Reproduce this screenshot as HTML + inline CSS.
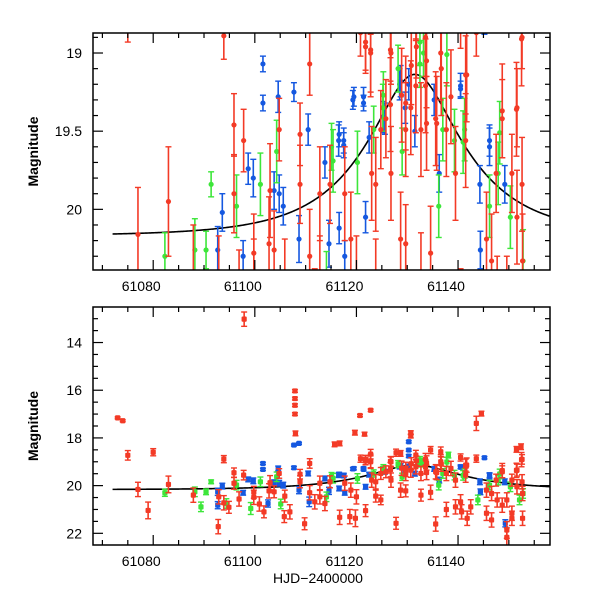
<!DOCTYPE html>
<html><head><meta charset="utf-8"><style>
html,body{margin:0;padding:0;background:#fff;}
svg{display:block;font-family:"Liberation Sans",sans-serif;}
</style></head><body>
<svg id="chart" width="600" height="600" viewBox="0 0 600 600" xmlns="http://www.w3.org/2000/svg">
<defs>
<clipPath id="clipTop"><rect x="93" y="33" width="457" height="237"/></clipPath>
<clipPath id="clipBot"><rect x="93" y="307" width="457" height="238"/></clipPath>
</defs>
<g id="gTop"></g>
<g id="gBot"></g>
</svg>
<script>
// ---- data: [HJD-2400000, magnitude, error] ----
const redPts = [[61073.0,17.16,0.04],[61074.0,17.28,0.04],[61075.0,18.73,0.2],[61077.0,20.16,0.3],[61079.0,21.04,0.35],[61080.0,18.6,0.15],[61083.0,19.95,0.35],[61087.9,20.4,0.3],[61092.8,21.72,0.3],[61092.9,20.47,0.3],[61093.9,18.89,0.15],[61093.9,20.72,0.3],[61094.9,20.91,0.25],[61095.9,19.46,0.2],[61095.9,19.9,0.25],[61096.9,20.56,0.3],[61097.8,19.56,0.2],[61097.9,13.02,0.3],[61099.8,20.28,0.25],[61099.8,20.49,0.3],[61100.9,20.77,0.3],[61101.8,21.1,0.25],[61102.8,20.22,0.3],[61103.0,19.88,0.3],[61103.8,20.26,0.25],[61104.8,19.49,0.2],[61105.8,21.3,0.25],[61105.9,20.44,0.25],[61106.9,21.1,0.3],[61107.9,16.03,0.06],[61107.9,16.35,0.06],[61107.9,16.63,0.06],[61107.9,17.0,0.06],[61108.0,17.81,0.1],[61108.9,19.52,0.2],[61108.9,19.84,0.25],[61109.8,21.6,0.25],[61110.8,19.07,0.2],[61110.8,20.3,0.3],[61111.8,20.68,0.3],[61112.8,19.9,0.3],[61112.8,20.47,0.3],[61113.8,20.75,0.3],[61114.8,19.84,0.25],[61115.7,18.27,0.1],[61116.7,18.23,0.1],[61116.7,21.33,0.3],[61117.7,19.9,0.3],[61118.7,21.3,0.3],[61118.9,20.19,0.3],[61119.7,17.78,0.1],[61119.8,21.37,0.35],[61120.0,20.47,0.3],[61120.7,17.06,0.05],[61120.8,18.87,0.15],[61121.6,17.84,0.08],[61121.8,18.93,0.2],[61121.8,21.05,0.25],[61122.8,16.84,0.05],[61122.8,18.68,0.2],[61122.8,19.0,0.25],[61123.0,19.77,0.3],[61123.8,20.44,0.25],[61123.8,19.84,0.3],[61124.8,20.6,0.2],[61124.8,19.49,0.25],[61125.8,19.42,0.25],[61126.8,19.0,0.2],[61126.8,19.77,0.3],[61127.8,18.62,0.15],[61127.8,21.58,0.25],[61128.7,18.65,0.12],[61128.7,20.19,0.3],[61129.7,20.22,0.25],[61129.7,19.49,0.3],[61130.7,17.78,0.08],[61130.7,17.92,0.08],[61130.7,19.35,0.3],[61131.7,18.72,0.2],[61131.7,19.21,0.3],[61132.7,20.4,0.25],[61132.7,19.49,0.3],[61133.6,18.9,0.25],[61133.6,19.21,0.3],[61134.6,18.51,0.15],[61134.6,20.28,0.3],[61135.6,21.61,0.3],[61135.6,19.42,0.3],[61136.6,18.58,0.2],[61136.6,19.0,0.3],[61137.7,21.0,0.3],[61137.7,19.49,0.3],[61138.6,19.28,0.3],[61139.5,19.77,0.3],[61139.5,20.89,0.3],[61140.5,18.82,0.15],[61140.5,20.68,0.3],[61140.7,21.1,0.3],[61141.5,19.14,0.25],[61141.5,19.56,0.3],[61141.8,21.37,0.3],[61142.5,20.89,0.3],[61143.6,17.39,0.3],[61143.6,18.87,0.15],[61144.6,16.98,0.1],[61145.6,21.16,0.3],[61146.6,21.44,0.3],[61145.6,20.19,0.3],[61146.6,20.33,0.3],[61147.5,19.77,0.25],[61147.7,20.6,0.3],[61148.7,19.42,0.25],[61148.7,20.82,0.3],[61149.6,20.6,0.3],[61149.6,21.86,0.35],[61149.6,22.17,0.4],[61150.6,21.16,0.3],[61150.6,21.37,0.3],[61150.6,19.77,0.25],[61151.5,18.48,0.12],[61151.6,19.35,0.25],[61151.6,20.05,0.3],[61152.4,18.37,0.12],[61152.6,18.9,0.2],[61152.6,19.84,0.3],[61152.7,21.37,0.3],[61152.7,20.33,0.3],
[61121.8,18.96,0.15],[61122.8,18.98,0.3],[61126.7,18.98,0.2],[61126.7,19.33,0.3],[61128.9,19.27,0.3],[61129.7,19.32,0.3],[61130.8,19.08,0.25],[61131.8,18.96,0.2],[61133.8,19.05,0.3],[61133.8,19.45,0.3],[61136.7,19.1,0.3],[61135.8,19.45,0.3],[61141.7,19.14,0.3],[61152.5,18.91,0.3],[61151.5,19.36,0.3],[61148.7,19.37,0.3]];
const bluePts = [[61092.7,20.26,0.15],[61092.7,20.82,0.15],[61093.6,20.02,0.12],[61097.7,20.3,0.1],[61098.7,19.74,0.1],[61099.7,19.8,0.12],[61101.6,19.07,0.05],[61101.6,19.32,0.05],[61102.6,20.75,0.15],[61103.8,19.88,0.12],[61104.6,19.28,0.1],[61104.8,19.9,0.12],[61105.6,19.98,0.12],[61107.7,18.3,0.04],[61108.7,18.23,0.04],[61107.7,19.25,0.06],[61108.7,20.19,0.15],[61110.5,19.49,0.1],[61110.7,20.68,0.2],[61113.8,19.7,0.1],[61114.6,20.22,0.15],[61116.6,19.52,0.08],[61116.6,20.12,0.1],[61117.5,19.56,0.08],[61117.7,20.3,0.1],[61119.5,19.28,0.06],[61121.4,19.28,0.06],[61121.8,20.05,0.1],[61125.6,19.42,0.1],[61128.7,19.18,0.1],[61130.3,18.16,0.05],[61130.3,18.51,0.05],[61130.3,18.76,0.06],[61129.6,19.35,0.1],[61136.3,19.77,0.12],[61140.5,19.21,0.08],[61145.2,18.83,0.05],[61144.3,19.84,0.12],[61144.4,20.26,0.12],[61146.2,19.56,0.1],[61149.2,19.84,0.12],[61149.3,21.58,0.15],
[61119.3,19.3,0.06],[61121.4,19.32,0.05],[61128.5,19.2,0.1],[61130.3,19.2,0.1],[61135.3,19.3,0.1],[61140.5,19.23,0.05],[61116.5,19.56,0.1],[61117.5,19.59,0.08],[61122.5,19.54,0.1],[61125.3,19.41,0.1],[61131.5,19.5,0.1],[61146.2,19.6,0.12]];
const greenPts = [[61082.3,20.3,0.15],[61088.2,20.26,0.2],[61089.4,20.89,0.2],[61090.4,20.26,0.12],[61091.4,19.84,0.08],[61094.4,20.75,0.2],[61096.4,19.98,0.2],[61099.2,20.96,0.25],[61101.1,19.84,0.2],[61104.3,19.63,0.2],[61105.1,20.77,0.2],[61114.1,20.47,0.2],[61115.1,19.6,0.15],[61123.4,19.49,0.15],[61125.2,19.35,0.15],[61129.0,19.63,0.15],[61132.5,19.07,0.15],[61138.1,18.72,0.12],[61137.0,19.49,0.2],[61136.2,19.98,0.2],[61139.3,19.56,0.2],[61141.3,19.49,0.2],[61143.9,20.6,0.2],[61146.2,19.98,0.2],[61147.9,19.77,0.2],[61150.3,20.05,0.2],[61152.1,20.6,0.2],[61152.8,20.33,0.2],
[61128.2,19.1,0.15],[61132.5,18.93,0.15],[61133.2,19.0,0.15],[61137.8,19.01,0.2],[61125.3,19.27,0.15],[61141.0,19.57,0.2],[61148.2,19.51,0.2],[61120.2,19.7,0.2],[61115.4,19.69,0.2]];
const xTicks = [61080, 61100, 61120, 61140];
const topYTicks = ["19", "19.5", "20"];
const botYTicks = ["14", "16", "18", "20", "22"];
// model parameters
const modelBase = 20.17, modelT0 = 61131.5, modelU0 = 0.41, modelTE = 17.8;

const NS = "http://www.w3.org/2000/svg";
const X0 = 93, X1 = 550, T0 = 61068.15, T1 = 61158.1;
const sx = t => X0 + (t - T0) / (T1 - T0) * (X1 - X0);
const TOP = {y0: 33, y1: 270, m0: 18.872, m1: 20.388};
const BOT = {y0: 307, y1: 545, m0: 12.51, m1: 22.49};
const sy = (P, m) => P.y0 + (m - P.m0) / (P.m1 - P.m0) * (P.y1 - P.y0);
const colors = {red: "#f33a26", blue: "#1558e0", green: "#3de63a"};

function mk(tag, attrs, parent) {
  const e = document.createElementNS(NS, tag);
  for (const k in attrs) e.setAttribute(k, attrs[k]);
  parent.appendChild(e);
  return e;
}
function modelMag(t) {
  const tau = (t - modelT0) / modelTE;
  const u = Math.sqrt(modelU0 * modelU0 + tau * tau);
  const A = (u * u + 2) / (u * Math.sqrt(u * u + 4));
  return modelBase - 2.5 * Math.log10(A);
}

function drawPanel(g, P, clipId, yTicks, yMajor, yMinor, isTop) {
  const data = mk("g", {"clip-path": "url(#" + clipId + ")"}, g);
  
  
  let d = "";
  for (let t = 61072; t <= T1; t += 0.25) {
    d += (d ? "L" : "M") + sx(t).toFixed(2) + "," + sy(P, modelMag(t)).toFixed(2);
  }
  const curve = mk("path", {d: d, fill: "none", stroke: "#000", "stroke-width": 1.6}, data);
  
  
  const series = [["blue", bluePts], ["green", greenPts], ["red", redPts]];
  series.forEach(([name, pts]) => {
    const sg = mk("g", {stroke: colors[name], fill: colors[name]}, data);
    
    
    pts.forEach(p => {
      const x = sx(p[0]), y = sy(P, p[1]);
      const ya = sy(P, p[1] - p[2]), yb = sy(P, p[1] + p[2]);
      mk("line", {x1: x, x2: x, y1: ya, y2: yb, "stroke-width": 1.6}, sg);
      mk("line", {x1: x - 3, x2: x + 3, y1: ya, y2: ya, "stroke-width": 1.4}, sg);
      mk("line", {x1: x - 3, x2: x + 3, y1: yb, y2: yb, "stroke-width": 1.4}, sg);
      let m;
      if (isTop) m = mk("circle", {cx: x, cy: y, r: 2.6, stroke: "none"}, sg);
      else m = mk("rect", {x: x - 2.6, y: y - 2.6, width: 5.2, height: 5.2, rx: 1, stroke: "none"}, sg);
      
      
    });
  });
  const fr = mk("rect", {x: X0, y: P.y0, width: X1 - X0, height: P.y1 - P.y0, fill: "none", stroke: "#000", "stroke-width": 1.5}, g);
  
  
  const tk = mk("g", {stroke: "#000", "stroke-width": 1.2}, g);
  
  
  for (let t = 61070; t <= T1; t += 5) {
    const x = sx(t), L = (t % 20 === 0) ? 10 : 5;
    mk("line", {x1: x, x2: x, y1: P.y1, y2: P.y1 - L}, tk);
    mk("line", {x1: x, x2: x, y1: P.y0, y2: P.y0 + L}, tk);
  }
  const start = Math.ceil(P.m0 / yMinor - 1e-6) * yMinor;
  for (let m = start; m <= P.m1 + 1e-6; m += yMinor) {
    const y = sy(P, m);
    const maj = Math.abs(m / yMajor - Math.round(m / yMajor)) < 1e-6;
    const L = maj ? 10 : 5;
    mk("line", {x1: X0, x2: X0 + L, y1: y, y2: y}, tk);
    mk("line", {x1: X1, x2: X1 - L, y1: y, y2: y}, tk);
  }
  xTicks.forEach(t => {
    const lab = mk("text", {x: sx(t) - 12, y: P.y1 + 21, "font-size": 14, "text-anchor": "middle", fill: "#000"}, g);
    lab.textContent = String(t);
    
    
  });
  yTicks.forEach(s => {
    const lab = mk("text", {x: 82, y: sy(P, parseFloat(s)) + 5, "font-size": 14, "text-anchor": "end", fill: "#000"}, g);
    lab.textContent = s;
    
    
  });
  const cy = (P.y0 + P.y1) / 2;
  const yt = mk("text", {x: 38, y: cy, "font-size": 14, "font-weight": "bold", "text-anchor": "middle", fill: "#000", transform: "rotate(-90 38 " + cy + ")"}, g);
  yt.textContent = "Magnitude";
  
  
}

const gTop = document.getElementById("gTop"), gBot = document.getElementById("gBot");
drawPanel(gTop, TOP, "clipTop", topYTicks, 0.5, 0.1, true);
drawPanel(gBot, BOT, "clipBot", botYTicks, 2, 0.5, false);
const xt = mk("text", {x: 318, y: 583, "font-size": 14, "text-anchor": "middle", fill: "#000"}, gBot);
xt.textContent = "HJD\u22122400000";


</script>
</body></html>
